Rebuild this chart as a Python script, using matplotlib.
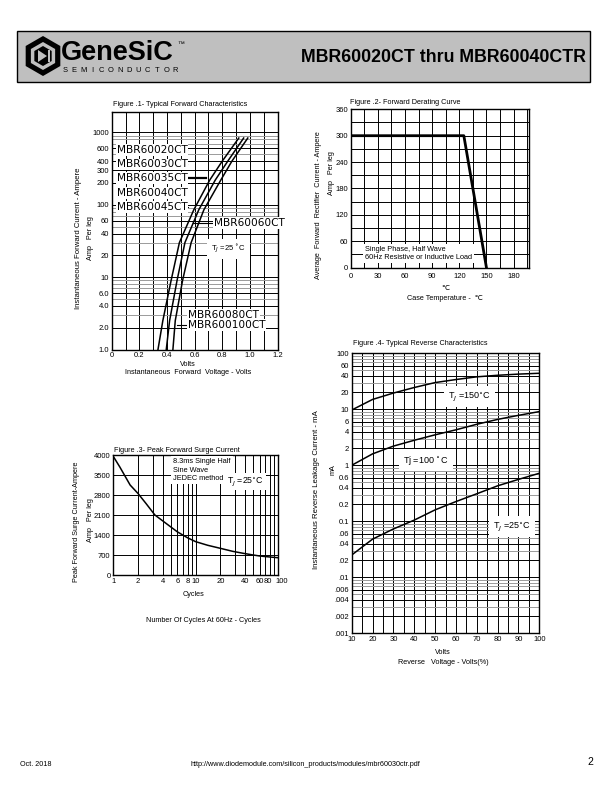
import matplotlib
matplotlib.use("Agg")
import matplotlib.pyplot as plt
from matplotlib.patches import Rectangle, RegularPolygon, Polygon
from matplotlib.ticker import NullFormatter
from matplotlib.transforms import ScaledTranslation

W, H = 612, 792
FONT = "Liberation Sans"
FONTS = [FONT, "DejaVu Sans", "Noto Sans CJK SC"]

# Figure 1 - typical forward characteristics
fwd_current = [1, 2.5, 9, 30, 85, 220, 400, 835]
fwd_volt_a = [0.335, 0.37, 0.43, 0.49, 0.594, 0.71, 0.80, 0.92]
fwd_volt_b = [0.395, 0.419, 0.473, 0.53, 0.63, 0.75, 0.84, 0.955]
fwd_volt_c = [0.443, 0.46, 0.513, 0.575, 0.667, 0.79, 0.87, 0.985]
fwd_yticks = [1, 2, 4, 6, 10, 20, 40, 60, 100, 200, 300, 400, 600, 1000]
fwd_ylabels = ["1.0", "2.0", "4.0", "6.0", "10", "20", "40", "60",
               "100", "200", "300", "400", "600", "1000"]
fwd_xticks = [0, 0.2, 0.4, 0.6, 0.8, 1.0, 1.2]
fwd_xlabels = ["0", "0.2", "0.4", "0.6", "0.8", "1.0", "1.2"]
fwd_parts_left = ["MBR60020CT", "MBR60030CT", "MBR60035CT",
                  "MBR60040CT", "MBR60045CT"]
fwd_parts_left_y = [569, 361, 232, 144, 94]

# Figure 2 - forward derating curve
derate_temp = [0, 125, 150]
derate_amp = [300, 300, 0]
derate_xticks = [0, 30, 60, 90, 120, 150, 180]
derate_yticks = [0, 60, 120, 180, 240, 300, 360]

# Figure 3 - peak forward surge current
surge_cycles = [1, 1.2, 1.6, 2, 2.5, 3.2, 4, 5, 6, 8, 10, 14, 20, 28,
                38, 50, 60, 80, 100]
surge_amp = [4150, 3780, 3150, 2850, 2500, 2100, 1890, 1680, 1510, 1300,
             1167, 1040, 933, 830, 758, 700, 665, 630, 605]
surge_xticks = [1, 2, 4, 6, 8, 10, 20, 40, 60, 80, 100]
surge_yticks = [0, 700, 1400, 2100, 2800, 3500, 4200]
surge_ylabels = ["0", "700", "1400", "2100", "2800", "3500", "4000"]

# Figure 4 - typical reverse characteristics
rev_volt = [10, 20, 30, 40, 50, 60, 70, 80, 90, 100]
rev_150 = [9.7, 15, 19.5, 24.5, 30, 34, 38, 40.5, 42.5, 44]
rev_100 = [1.0, 1.6, 2.2, 2.8, 3.5, 4.3, 5.4, 6.6, 7.8, 9.1]
rev_25 = [0.025, 0.048, 0.073, 0.105, 0.16, 0.225, 0.31, 0.43, 0.56, 0.72]
rev_yticks = [0.001, 0.002, 0.004, 0.006, 0.01, 0.02, 0.04, 0.06, 0.1,
              0.2, 0.4, 0.6, 1, 2, 4, 6, 10, 20, 40, 60, 100]
rev_ylabels = [".001", ".002", ".004", ".006", ".01", ".02", ".04", ".06",
               "0.1", "0.2", "0.4", "0.6", "1", "2", "4", "6", "10", "20",
               "40", "60", "100"]


def px_axes(fig, left, top, right, bottom):
    return fig.add_axes([left / W, 1 - bottom / H,
                         (right - left) / W, (bottom - top) / H])


def style(ax):
    ax.tick_params(which="both", length=0, pad=2, labelsize=5.5)
    for lab in ax.get_xticklabels() + ax.get_yticklabels():
        lab.set_fontfamily(FONT)
    for sp in ax.spines.values():
        sp.set_linewidth(1.0)
    ax.grid(which="major", color="black", lw=0.7)
    ax.grid(which="minor", color="#9a9a9a", lw=0.7)
    ax.set_axisbelow(True)


def decade_minor(mults, lo, hi):
    out = []
    d = lo
    while d < hi:
        out += [m * d for m in mults]
        d *= 10
    return out


def plot_forward(fig):
    ax = px_axes(fig, 111.7, 111.7, 277.5, 349.5)
    ax.set_yscale("log")
    ax.set_xlim(0, 1.2)
    ax.set_ylim(1, 1930)
    ax.set_yticks(fwd_yticks, fwd_ylabels)
    ax.set_yticks(decade_minor([3, 5, 7, 8, 9], 1, 1000), minor=True)
    ax.yaxis.set_minor_formatter(NullFormatter())
    ax.set_xticks(fwd_xticks, fwd_xlabels)
    ax.set_xticks([0.1, 0.3, 0.5, 0.7, 0.9, 1.1], minor=True)
    ax.xaxis.set_minor_formatter(NullFormatter())
    style(ax)
    ax.grid(which="minor", axis="x", color="black", lw=0.7)

    for v in (fwd_volt_a, fwd_volt_b, fwd_volt_c):
        ax.plot(v, fwd_current, color="black", lw=1.1, zorder=3)

    box = dict(facecolor="white", edgecolor="none", pad=0.6)
    ends = [0.548, 0.548, 0.68, None, 0.55]
    for name, y, end in zip(fwd_parts_left, fwd_parts_left_y, ends):
        ax.text(0.035, y, name, fontsize=7.6, family="DejaVu Sans",
                va="center", bbox=box, zorder=6)
        if end:
            ax.plot([0.3, end], [y, y], color="black",
                    lw=1.6 if end > 0.6 else 0.8, zorder=4)
    ax.plot([0.59, 0.74], [56, 56], color="black", lw=0.8, zorder=4)
    ax.text(0.739, 56, "MBR60060CT", fontsize=7.6, family="DejaVu Sans",
            va="center", bbox=box, zorder=6)
    ax.text(0.553, 3.0, "MBR60080CT", fontsize=7.6, family="DejaVu Sans",
            va="center", bbox=box, zorder=6)
    ax.plot([0.473, 0.56], [2.18, 2.18], color="black", lw=0.8, zorder=4)
    ax.text(0.553, 2.18, "MBR600100CT", fontsize=7.6, family="DejaVu Sans",
            va="center", bbox=box, zorder=6)
    ax.text(0.72, 24.4, r"T$_J$ =25 $^{\circ}$C", fontsize=5.5,
            family=FONT, va="center", bbox=dict(facecolor="white",
                                                   edgecolor="none", pad=3),
            zorder=6)


def plot_derating(fig):
    ax = px_axes(fig, 350.7, 109.3, 529, 267.7)
    ax.set_xlim(0, 197)
    ax.set_ylim(0, 360)
    ax.set_xticks(derate_xticks)
    ax.set_xticks([15, 45, 75, 105, 135, 165, 195], minor=True)
    ax.set_yticks(derate_yticks)
    ax.set_yticks([30, 90, 150, 210, 270, 330], minor=True)
    style(ax)
    ax.tick_params(axis="x", pad=4)
    ax.grid(which="minor", color="black", lw=0.7)
    ax.plot(derate_temp, derate_amp, color="black", lw=2.0, zorder=3)
    ax.text(15.8, 32, "Single Phase, Half Wave\n"
            "60Hz Resistive or Inductive Load", fontsize=5.3,
            family=FONT, va="center", linespacing=1.3,
            bbox=dict(facecolor="white", edgecolor="none", pad=1.5),
            zorder=6)


def plot_surge(fig):
    ax = px_axes(fig, 113.3, 455, 278, 575)
    ax.set_xscale("log")
    ax.set_xlim(1, 100)
    ax.set_ylim(0, 4200)
    ax.set_xticks(surge_xticks, [str(t) for t in surge_xticks])
    ax.set_xticks([3, 5, 7, 9, 30, 50, 70, 90], minor=True)
    ax.xaxis.set_minor_formatter(NullFormatter())
    ax.set_yticks(surge_yticks, surge_ylabels)
    style(ax)
    ax.grid(which="minor", axis="x", color="black", lw=0.7)
    # the last two cycle labels sit close together: nudge them apart
    shift = {"80": -2.5, "100": 3.5}
    for lab in ax.get_xticklabels():
        dx = shift.get(lab.get_text())
        if dx:
            lab.set_transform(lab.get_transform() + ScaledTranslation(
                dx / 100, 0, fig.dpi_scale_trans))
    ax.plot(surge_cycles, surge_amp, color="black", lw=1.1, zorder=3)
    ax.text(5.35, 4080, "8.3ms Single Half\nSine Wave\nJEDEC method",
            fontsize=5.3, family=FONT, va="top", linespacing=1.25,
            bbox=dict(facecolor="white", edgecolor="none", pad=1.5),
            zorder=6)
    ax.text(23.8, 3265, r"T$_J$ =25$^{\circ}$C", fontsize=6.3, family=FONT,
            va="center", bbox=dict(facecolor="white", edgecolor="none",
                                   pad=1.5), zorder=6)


def plot_reverse(fig):
    ax = px_axes(fig, 351.7, 353.3, 539.3, 633.3)
    ax.set_yscale("log")
    ax.set_xlim(10, 100)
    ax.set_ylim(0.001, 100)
    ax.set_xticks(rev_volt)
    ax.set_xticks([15, 25, 35, 45, 55, 65, 75, 85, 95], minor=True)
    ax.set_yticks(rev_yticks, rev_ylabels)
    ax.set_yticks(decade_minor([3, 5, 7, 8, 9], 0.001, 100), minor=True)
    ax.yaxis.set_minor_formatter(NullFormatter())
    ax.xaxis.set_minor_formatter(NullFormatter())
    style(ax)
    ax.grid(which="minor", axis="x", color="black", lw=0.7)
    for curve in (rev_150, rev_100, rev_25):
        ax.plot(rev_volt, curve, color="black", lw=1.1, zorder=3)
    box = dict(facecolor="white", edgecolor="none", pad=3)
    ax.text(56.4, 16.8, r"T$_J$ =150$^{\circ}$C", fontsize=6.5,
            family=FONT, va="center", bbox=box, zorder=6)
    ax.text(34.8, 1.24, r"Tj =100 $^{\circ}$C", fontsize=6.5,
            family=FONT, va="center", bbox=box, zorder=6)
    ax.text(77.9, 0.08, r"T$_J$ =25$^{\circ}$C", fontsize=6.5,
            family=FONT, va="center", bbox=box, zorder=6)


def page(ax0):
    ax0.set_xlim(0, W)
    ax0.set_ylim(H, 0)
    ax0.axis("off")

    # header band and logo
    ax0.add_patch(Rectangle((17, 31), 573, 51, facecolor="#bfbfbf",
                            edgecolor="black", lw=1))
    ax0.add_patch(RegularPolygon((43, 56), 6, radius=20, orientation=0,
                                 facecolor="black"))
    ax0.add_patch(RegularPolygon((43, 56), 6, radius=14, orientation=0,
                                 facecolor="#bfbfbf"))
    ax0.add_patch(RegularPolygon((43, 56), 6, radius=10, orientation=0,
                                 facecolor="black"))
    ax0.add_patch(Polygon([(38, 50), (38, 62), (47, 56)],
                          facecolor="#bfbfbf"))
    ax0.add_patch(Rectangle((47.5, 50), 2, 12, facecolor="#bfbfbf"))
    ax0.text(61, 53, "GeneSiC", fontsize=19.5, weight="bold", family=FONT,
             va="center")
    ax0.text(177, 45, "\u2122", fontsize=5, family=FONTS, va="center")
    for i, ch in enumerate("SEMICONDUCTOR"):
        ax0.text(65 + i * 9.2, 71, ch, fontsize=5.4, family=FONT,
                 ha="center", va="center")
    ax0.text(586, 58, "MBR60020CT thru MBR60040CTR", fontsize=12.8,
             weight="bold", family=FONT, ha="right", va="center")

    small = dict(fontsize=5.2, family=FONTS)
    # figure titles
    ax0.text(113.3, 105, "Figure .1- Typical Forward Characteristics",
             va="center", **small)
    ax0.text(350, 102.5, "Figure .2- Forward Derating Curve",
             va="center", **small)
    ax0.text(114.3, 450.7, "Figure .3- Peak Forward Surge Current",
             va="center", **small)
    ax0.text(353.3, 343.3, "Figure .4- Typical Reverse Characteristics",
             va="center", **small)

    # axis titles
    ax0.text(78.3, 238, "Instantaneous Forward Current - Ampere",
             rotation=90, ha="center", va="center", fontsize=5.6,
             family=FONTS)
    ax0.text(90, 238, "Amp   Per leg", rotation=90, ha="center",
             va="center", **small)
    ax0.text(188.3, 364.3, "Volts", ha="center", va="center", **small)
    ax0.text(188.3, 372.5, "Instantaneous  Forward  Voltage - Volts",
             ha="center", va="center", **small)

    ax0.text(318.3, 205, "Average  Forward  Rectifier  Current - Ampere",
             rotation=90, ha="center", va="center", **small)
    ax0.text(331.7, 173.3, "Amp   Per leg", rotation=90, ha="center",
             va="center", **small)
    ax0.text(445, 288, "\u2103", ha="center", va="center", **small)
    ax0.text(445, 298, "Case Temperature -  \u2103", ha="center",
             va="center", **small)

    ax0.text(76.7, 522, "Peak Forward Surge Current-Ampere", rotation=90,
             ha="center", va="center", **small)
    ax0.text(90, 520, "Amp   Per leg", rotation=90, ha="center",
             va="center", **small)
    ax0.text(193.3, 594, "Cycles", ha="center", va="center", **small)
    ax0.text(203.3, 620, "Number Of Cycles At 60Hz - Cycles", ha="center",
             va="center", **small)

    ax0.text(316, 490, "Instantaneous Reverse Leakage Current - mA",
             rotation=90, ha="center", va="center", fontsize=5.6,
             family=FONTS)
    ax0.text(333.3, 470, "mA", rotation=90, ha="center", va="center",
             **small)
    ax0.text(443.3, 652.7, "Volts", ha="center", va="center", **small)
    ax0.text(443.3, 662, "Reverse   Voltage - Volts(%)", ha="center",
             va="center", **small)

    # footer
    ax0.text(20, 765, "Oct. 2018", va="center", **small)
    ax0.text(305, 765,
             "http://www.diodemodule.com/silicon_products/modules/"
             "mbr60030ctr.pdf", ha="center", va="center", **small)
    ax0.text(590, 762, "2", ha="center", va="center", fontsize=7.5,
             family=FONT)


def main():
    fig = plt.figure(figsize=(W / 100, H / 100), dpi=100)
    ax0 = fig.add_axes([0, 0, 1, 1])
    page(ax0)
    plot_forward(fig)
    plot_derating(fig)
    plot_surge(fig)
    plot_reverse(fig)
    fig.savefig("out.png", dpi=100)


if __name__ == "__main__":
    main()
